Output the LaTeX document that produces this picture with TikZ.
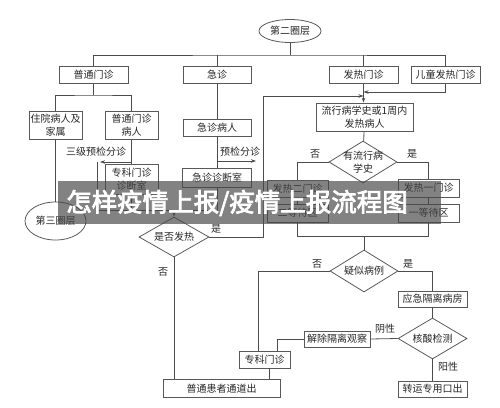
\documentclass[tikz,border=0pt]{standalone}
\usepackage{fontspec}
\setmainfont{Noto Sans CJK SC}
\newfontfamily\bannerfont[FakeBold=3]{Noto Sans CJK SC}
\usetikzlibrary{shapes.geometric,arrows.meta}

\begin{document}
\begin{tikzpicture}[x=1pt, y=-1pt, line width=0.8pt, draw=black!70,
  every node/.style={font=\fontsize{10pt}{13pt}\selectfont, inner sep=0pt, align=center, text=black!85},
  box/.style={draw=black!65, rectangle},
  oval/.style={draw=black!65, ellipse},
  ask/.style={draw=black!65, diamond, aspect=1.75},
  >={Stealth[length=5pt,width=3.5pt]}]
\useasboundingbox (0,0) rectangle (500,407);
\node[oval, minimum width=62pt, minimum height=23pt] (R0N1) at (290,31) {第二圈层};
\coordinate (R0C1) at (290,55);
\node[box, minimum width=69pt, minimum height=17pt] (R1N1) at (93.5,74.5) {普通门诊};
\node[box, minimum width=68pt, minimum height=17pt] (R1N2) at (217,74.5) {急诊};
\node[box, minimum width=69pt, minimum height=17pt] (R1N3) at (363.5,74.5) {发热门诊};
\node[box, minimum width=69pt, minimum height=17pt] (R1N4) at (445.5,74.5) {儿童发热门诊};
\coordinate (R1C1) at (93.5,95);
\coordinate (R1C2) at (263,96);
\coordinate (R1C3) at (363.5,96);
\coordinate (R1C4) at (363.5,92);
\node[box, minimum width=53pt, minimum height=28pt] (R2N1) at (55.5,125) {住院病人及\\家属};
\node[box, minimum width=53pt, minimum height=28pt] (R2N2) at (131.5,125) {普通门诊\\病人};
\node[box, minimum width=68pt, minimum height=17pt] (R2N3) at (217,127.5) {急诊病人};
\node[box, minimum width=97pt, minimum height=28pt] (R2N4) at (364.5,117) {流行病学史或1周内\\发热病人};
\node (T1) at (96,152) {三级预检分诊};
\node (T2) at (240,152) {预检分诊};
\coordinate (R3C1) at (131.5,162);
\coordinate (R3C2) at (97,162);
\coordinate (R3C3) at (217,161);
\coordinate (R3C4) at (263,161);
\node[box, minimum width=53pt, minimum height=30pt] (R3N1) at (131.5,179) {专科门诊\\诊断室};
\node[box, minimum width=69pt, minimum height=19pt] (R3N2) at (217,177.5) {急诊诊断室};
\node[oval, minimum width=61pt, minimum height=38pt] (R3N3) at (55.5,221) {第三圈层};
\node[ask, inner sep=-3pt, minimum width=68pt, minimum height=42pt] (R3N4) at (363,162) {有流行病\\学史};
\node (T3) at (315,154) {否};
\node (T4) at (412,154) {是};
\node[box, minimum width=61pt, minimum height=17pt] (R4N1) at (297.5,188.5) {发热二门诊};
\node[box, minimum width=61pt, minimum height=18pt] (R4N2) at (297.5,213) {二等待区};
\node[box, minimum width=61pt, minimum height=18pt] (R4N3) at (428.5,188) {发热一门诊};
\node[box, minimum width=61pt, minimum height=18pt] (R4N4) at (428.5,213) {一等待区};
\coordinate (R4C1) at (174,210);
\coordinate (R4C2) at (364,236);
\node[ask, minimum width=70pt, minimum height=40pt] (R5N1) at (174,237) {是否发热};
\node (T5) at (216,229) {是};
\node (T6) at (163,272) {否};
\node[ask, minimum width=68pt, minimum height=42pt] (R5N2) at (364,271) {疑似病例};
\node (T7) at (317,264) {否};
\node (T8) at (408,264) {是};
\node[box, minimum width=69pt, minimum height=16pt] (R6N1) at (432.5,299) {应急隔离病房};
\node[ask, minimum width=69pt, minimum height=41pt] (R6N2) at (432.5,338.5) {核酸检测};
\node[box, minimum width=66pt, minimum height=16pt] (R6N3) at (337,339) {解除隔离观察};
\node (T9) at (385,329) {阴性};
\node (T10) at (448,367) {阳性};
\node[box, minimum width=51pt, minimum height=17pt] (R7N1) at (264.5,359.5) {专科门诊};
\coordinate (R7C1) at (258,351);
\coordinate (R7C2) at (277,351);
\coordinate (R7C3) at (269,368);
\node[box, minimum width=117pt, minimum height=18pt] (R8N1) at (221.5,388.5) {普通患者通道出};
\node[box, minimum width=69pt, minimum height=16pt] (R8N2) at (432.5,389) {转运专用口出};
\draw (R0N1) -- (R0C1);
\draw (R1N1.north) |- (R0C1) -| (R1N4.north);
\draw (R1N2.north) -- (R1N2.north |- R0C1);
\draw (R1N3.north) -- (R1N3.north |- R0C1);
\draw (R1N1) -- (R1C1);
\draw (R2N1.north) |- (R1C1) -| (R2N2.north);
\draw (R1N2) -- (R2N3);
\draw (R2N1) -- (R3N3);
\draw (R2N2) -- (R3N1);
\draw (R2N3) -- (R3N2);
\draw[->, shorten >=3pt] (R3C1) -- (R3C2);
\draw (R3C2) |- (R4C1);
\draw (R3N1.south) -- (R3N1.south |- R4C1);
\draw (R3N2.south) |- (R4C1);
\draw[->] (R4C1) -- (R5N1);
\draw[->, shorten >=7pt] (R3C3) -- (R3C4);
\draw (R5N1.east) -| (R1C2);
\draw[->] (R1C2) -- (R1C3);
\draw[->] (R1N4.south) |- (R1C4);
\draw[->] (R1N3.south) -- (R1N3.south |- R2N4.north);
\draw (R2N4) -- (R3N4);
\draw (R3N4.west) -| (R4N1.north);
\draw (R3N4.east) -| (R4N3.north);
\draw (R4N1) -- (R4N2);
\draw (R4N3) -- (R4N4);
\draw (R4N2.south) |- (R4C2);
\draw (R4N4.south) |- (R4C2);
\draw (R4C2) -- (R5N2);
\draw (R5N1.south) -- (R5N1.south |- R8N1.north);
\draw (R5N2.west) -| (R7C1);
\draw (R5N2.east) -| (R6N1.north);
\draw (R6N1) -- (R6N2);
\draw (R6N2.west) -- (R6N3.east);
\draw (R6N3.west) -| (R7C2);
\draw (R7C3) -- (R7C3 |- R8N1.north);
\draw (R6N2) -- (R8N2);
\fill[black!72, opacity=0.68] (58,181) rectangle (441,224);
\node[text=white, font=\bannerfont\fontsize{25.5pt}{26pt}\selectfont] (B1) at (237,203) {怎样疫情上报/疫情上报流程图};
\end{tikzpicture}
\end{document}
